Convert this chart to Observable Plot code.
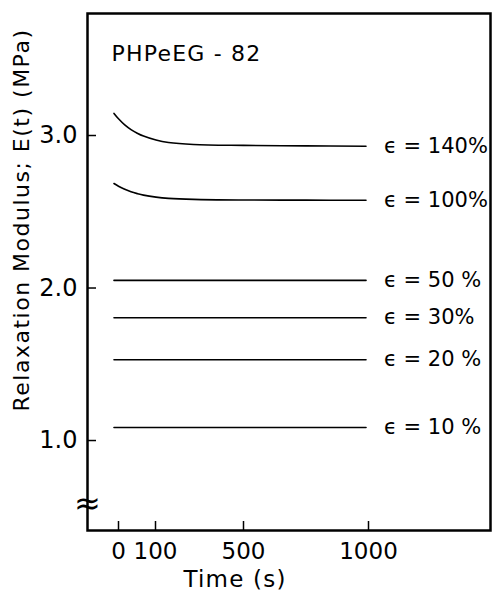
<!DOCTYPE html>
<html>
<head>
<meta charset="utf-8">
<script src="https://cdn.jsdelivr.net/npm/d3@7"></script>
<script src="https://cdn.jsdelivr.net/npm/@observablehq/plot@0.6"></script>
<style>
  body { margin: 0; background: #fff; }
  svg { font-family: "DejaVu Sans", sans-serif; }
  .spaced text { letter-spacing: 1.2px; }
  .ylab text { letter-spacing: 1.5px; }
</style>
</head>
<body>
<div id="chart"></div>
<script>
// ---- data ----
const title = "PHPeEG - 82";
const xTicks = [0, 500, 1000];
const xTicksShifted = [100];
const yTicks = [1.0, 2.0, 3.0];
const strains = ["140%", "100%", "50%", "30%", "20%", "10%"];
const labels = ["ϵ = 140%", "ϵ = 100%", "ϵ = 50 %", "ϵ = 30%", "ϵ = 20 %", "ϵ = 10 %"];
const times = [-18, 0, 25, 50, 75, 100, 150, 200, 300, 500, 750, 990];
const e140 = [3.145, 3.11, 3.07, 3.039, 3.015, 2.996, 2.97, 2.954, 2.941, 2.935, 2.932, 2.93];
const e100 = [2.685, 2.667, 2.647, 2.631, 2.619, 2.609, 2.596, 2.588, 2.581, 2.577, 2.576, 2.575];
const e50  = [2.05, 2.05, 2.05, 2.05, 2.05, 2.05, 2.05, 2.05, 2.05, 2.05, 2.05, 2.05];
const e30  = [1.805, 1.805, 1.805, 1.805, 1.805, 1.805, 1.805, 1.805, 1.805, 1.805, 1.805, 1.805];
const e20  = [1.53, 1.53, 1.53, 1.53, 1.53, 1.53, 1.53, 1.53, 1.53, 1.53, 1.53, 1.53];
const e10  = [1.085, 1.085, 1.085, 1.085, 1.085, 1.085, 1.085, 1.085, 1.085, 1.085, 1.085, 1.085];
const xDomain = [-124, 1488];
const yDomain = [0.41, 3.8];

const series = [e140, e100, e50, e30, e20, e10];
const rows = [];
series.forEach((vals, i) => vals.forEach((v, j) => rows.push({strain: strains[i], t: times[j], E: v})));
const ends = series.map((vals, i) => ({label: labels[i], t: times[times.length - 1], E: vals[vals.length - 1]}));

const chart = Plot.plot({
  width: 493,
  height: 595,
  marginLeft: 87,
  marginTop: 13,
  marginRight: 3,
  marginBottom: 65,
  style: {fontFamily: "DejaVu Sans, sans-serif", color: "#000", background: "#fff"},
  x: {domain: xDomain},
  y: {domain: yDomain},
  marks: [
    Plot.frame({stroke: "#000", strokeWidth: 2.5}),
    Plot.axisX({ticks: xTicks, tickSize: -9, tickPadding: 21, tickFormat: d => String(d),
      fontSize: 23, label: null, strokeWidth: 1.5}),
    Plot.axisX({ticks: xTicksShifted, tickSize: -9, tickPadding: 21, tickFormat: d => String(d),
      fontSize: 23, label: null, strokeWidth: 1.5, dx: 12}),
    Plot.axisY({ticks: yTicks, tickSize: -9, tickPadding: 19, tickFormat: d => d.toFixed(1),
      fontSize: 24, label: null, strokeWidth: 1.5}),
    Plot.text(["Time (s)"], {frameAnchor: "bottom", dx: -54, dy: 56, fontSize: 23,
      className: "spaced", text: d => d}),
    Plot.text(["Relaxation Modulus; E(t) (MPa)"], {frameAnchor: "left", textAnchor: "middle",
      dx: -66, dy: -52, rotate: -90, fontSize: 22, className: "ylab", text: d => d}),
    Plot.text([title], {frameAnchor: "top-left", dx: 24, dy: 32, fontSize: 22, textAnchor: "start",
      className: "spaced", text: d => d}),
    Plot.text(["≈"], {frameAnchor: "bottom-left", textAnchor: "middle", dy: -17, fontSize: 32, text: d => d}),
    Plot.line(rows, {x: "t", y: "E", z: "strain", stroke: "#000", strokeWidth: 1.6, curve: "catmull-rom"}),
    Plot.text(ends, {x: "t", y: "E", text: "label", textAnchor: "start", dx: 18, fontSize: 21})
  ]
});
document.getElementById("chart").appendChild(chart);
</script>
</body>
</html>
